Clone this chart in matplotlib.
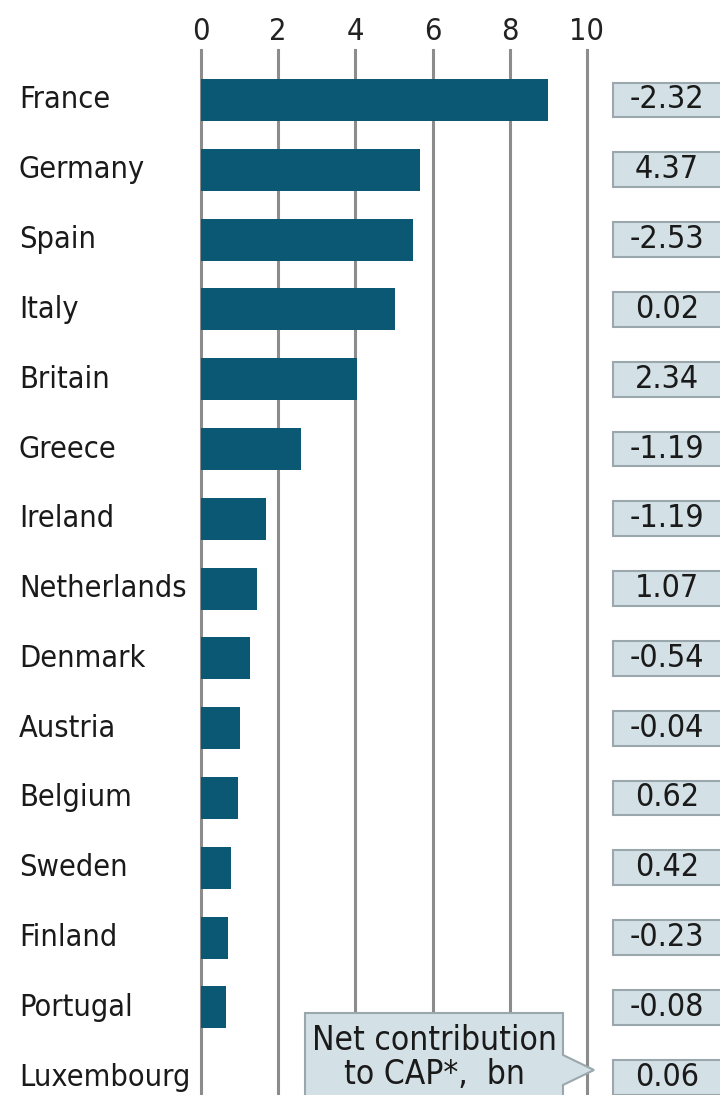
import matplotlib
matplotlib.use("Agg")
import matplotlib.pyplot as plt
from matplotlib.patches import Rectangle, Polygon
from matplotlib.transforms import blended_transform_factory

countries = ["France", "Germany", "Spain", "Italy", "Britain", "Greece", "Ireland",
             "Netherlands", "Denmark", "Austria", "Belgium", "Sweden", "Finland",
             "Portugal", "Luxembourg"]
receipts = [9.0, 5.67, 5.49, 5.03, 4.04, 2.59, 1.68, 1.45, 1.27, 1.01, 0.96, 0.78,
            0.70, 0.65, 0.0]
net_contribution = ["-2.32", "4.37", "-2.53", "0.02", "2.34", "-1.19", "-1.19",
                    "1.07", "-0.54", "-0.04", "0.62", "0.42", "-0.23", "-0.08", "0.06"]
x_ticks = [0, 2, 4, 6, 8, 10]

FONT = dict(family=["DejaVu Sans"], stretch="condensed")
BAR = "#0b5874"
GRID = "#8c8c8c"
BOX_FILL = "#d3e0e5"
BOX_EDGE = "#9aa7ad"
INK = "#1a1a1a"

W, H = 720, 1095
fig = plt.figure(figsize=(W / 100, H / 100), dpi=100)
fig.patch.set_facecolor("white")

# plot area in pixel terms
left_px, right_px = 201, 587
top_px, bottom_px = 50, 1095
ax = fig.add_axes([left_px / W, 1 - bottom_px / H, (right_px - left_px) / W,
                   (bottom_px - top_px) / H])

row0_px, step_px = 100, 69.8
ax.set_xlim(0, 10)
ax.set_ylim((bottom_px - row0_px) / step_px, -(row0_px - top_px) / step_px)

ypos = list(range(len(countries)))
for x in x_ticks:
    ax.axvline(x, color=GRID, lw=2.2, zorder=1, clip_on=False)
ax.barh(ypos, receipts, height=0.6, color=BAR, zorder=2)

for s in ax.spines.values():
    s.set_visible(False)
ax.xaxis.tick_top()
ax.set_xticks(x_ticks)
ax.set_xticklabels([str(t) for t in x_ticks], fontsize=22, color="#222222", **FONT)
ax.tick_params(axis="x", length=0, pad=3)
ax.set_yticks([])

# country names on the left
row_tr = blended_transform_factory(fig.transFigure, ax.transData)
for i, c in enumerate(countries):
    ax.text(19 / W, i, c, transform=row_tr, ha="left", va="center",
            fontsize=22, color=INK, clip_on=False, **FONT)

# net contribution boxes on the right
for i, v in enumerate(net_contribution):
    ax.add_patch(Rectangle((613 / W, i - 0.25), 0.2, 0.5, transform=row_tr,
                           facecolor=BOX_FILL, edgecolor=BOX_EDGE, lw=1.5,
                           clip_on=False, zorder=3))
    ax.text(667 / W, i, v, transform=row_tr, ha="center", va="center",
            fontsize=23, color=INK, clip_on=False, zorder=4, **FONT)

# callout label pointing to the boxes
def fx(px):
    return px / W

def fy(py):
    return 1 - py / H

callout = Polygon([(fx(305), fy(1013)), (fx(563), fy(1013)), (fx(563), fy(1055)),
                   (fx(594), fy(1070)), (fx(563), fy(1085)), (fx(563), fy(1100)),
                   (fx(305), fy(1100))], closed=True, transform=fig.transFigure,
                  facecolor=BOX_FILL, edgecolor=BOX_EDGE, lw=1.5, zorder=5)
fig.patches.append(callout)
fig.text(fx(434), fy(1040), "Net contribution", ha="center", va="center",
         fontsize=24, color=INK, zorder=6, **FONT)
fig.text(fx(434), fy(1074), "to CAP*,  bn", ha="center", va="center",
         fontsize=24, color=INK, zorder=6, **FONT)

fig.savefig("out.png", dpi=100)
